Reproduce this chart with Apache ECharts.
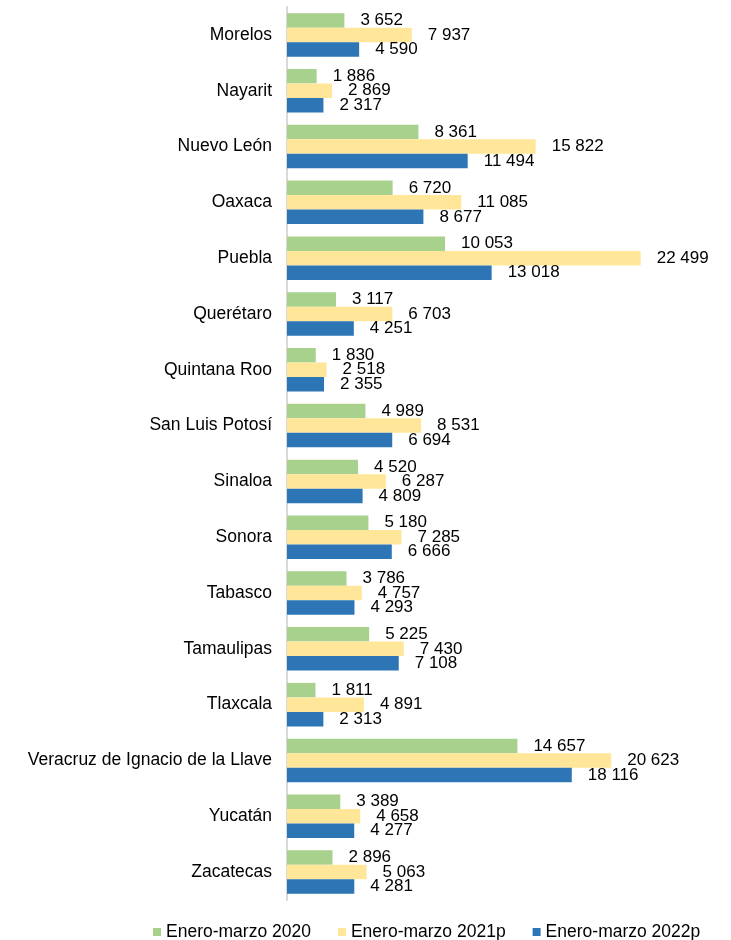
<!DOCTYPE html>
<html>
<head>
<meta charset="utf-8">
<script src="https://cdn.jsdelivr.net/npm/echarts@6/dist/echarts.min.js"></script>
<style>html,body{margin:0;padding:0;background:#fff}#c{width:731px;height:940px}</style>
</head>
<body>
<div id="c"></div>
<script>
const categories = ["Morelos","Nayarit","Nuevo León","Oaxaca","Puebla","Querétaro","Quintana Roo","San Luis Potosí","Sinaloa","Sonora","Tabasco","Tamaulipas","Tlaxcala","Veracruz de Ignacio de la Llave","Yucatán","Zacatecas"];
const seriesNames = ["Enero-marzo 2020","Enero-marzo 2021p","Enero-marzo 2022p"];
const values2020 = [3652,1886,8361,6720,10053,3117,1830,4989,4520,5180,3786,5225,1811,14657,3389,2896];
const values2021 = [7937,2869,15822,11085,22499,6703,2518,8531,6287,7285,4757,7430,4891,20623,4658,5063];
const values2022 = [4590,2317,11494,8677,13018,4251,2355,6694,4809,6666,4293,7108,2313,18116,4277,4281];
const colors = ["#A9D18E","#FFE699","#2E75B6"];

const FONT = "'Liberation Sans', Arial, sans-serif";
function fmt(v){ return String(v).replace(/\B(?=(\d{3})+(?!\d))/g, " "); }

const chart = echarts.init(document.getElementById('c'), null, {renderer:'canvas'});
const dataSets = [values2020, values2021, values2022];
chart.setOption({
  animation: false,
  backgroundColor: '#fff',
  grid: {left: 287, right: 51, top: 7, bottom: 40, containLabel: false},
  legend: {
    data: seriesNames,
    left: 148, top: 918,
    itemWidth: 8, itemHeight: 8, itemGap: 27,
    icon: 'rect',
    textStyle: {fontFamily: FONT, fontSize: 17.5, color: '#000'}
  },
  xAxis: {type: 'value', min: 0, max: 25000, show: false, splitLine: {show: false}},
  yAxis: {
    type: 'category', data: categories, inverse: true,
    axisLine: {show: true, lineStyle: {color: '#D9D9D9', width: 2}},
    axisTick: {show: false},
    axisLabel: {fontFamily: FONT, fontSize: 17.5, color: '#000', margin: 15}
  },
  series: dataSets.map((d, i) => ({
    name: seriesNames[i], type: 'bar', data: d,
    barGap: '0%', barCategoryGap: '22%',
    itemStyle: {color: colors[i]},
    label: {show: true, position: 'right', distance: 16, formatter: p => fmt(p.value),
      fontFamily: FONT, fontSize: 17, color: '#000'}
  }))
});
</script>
</body>
</html>
